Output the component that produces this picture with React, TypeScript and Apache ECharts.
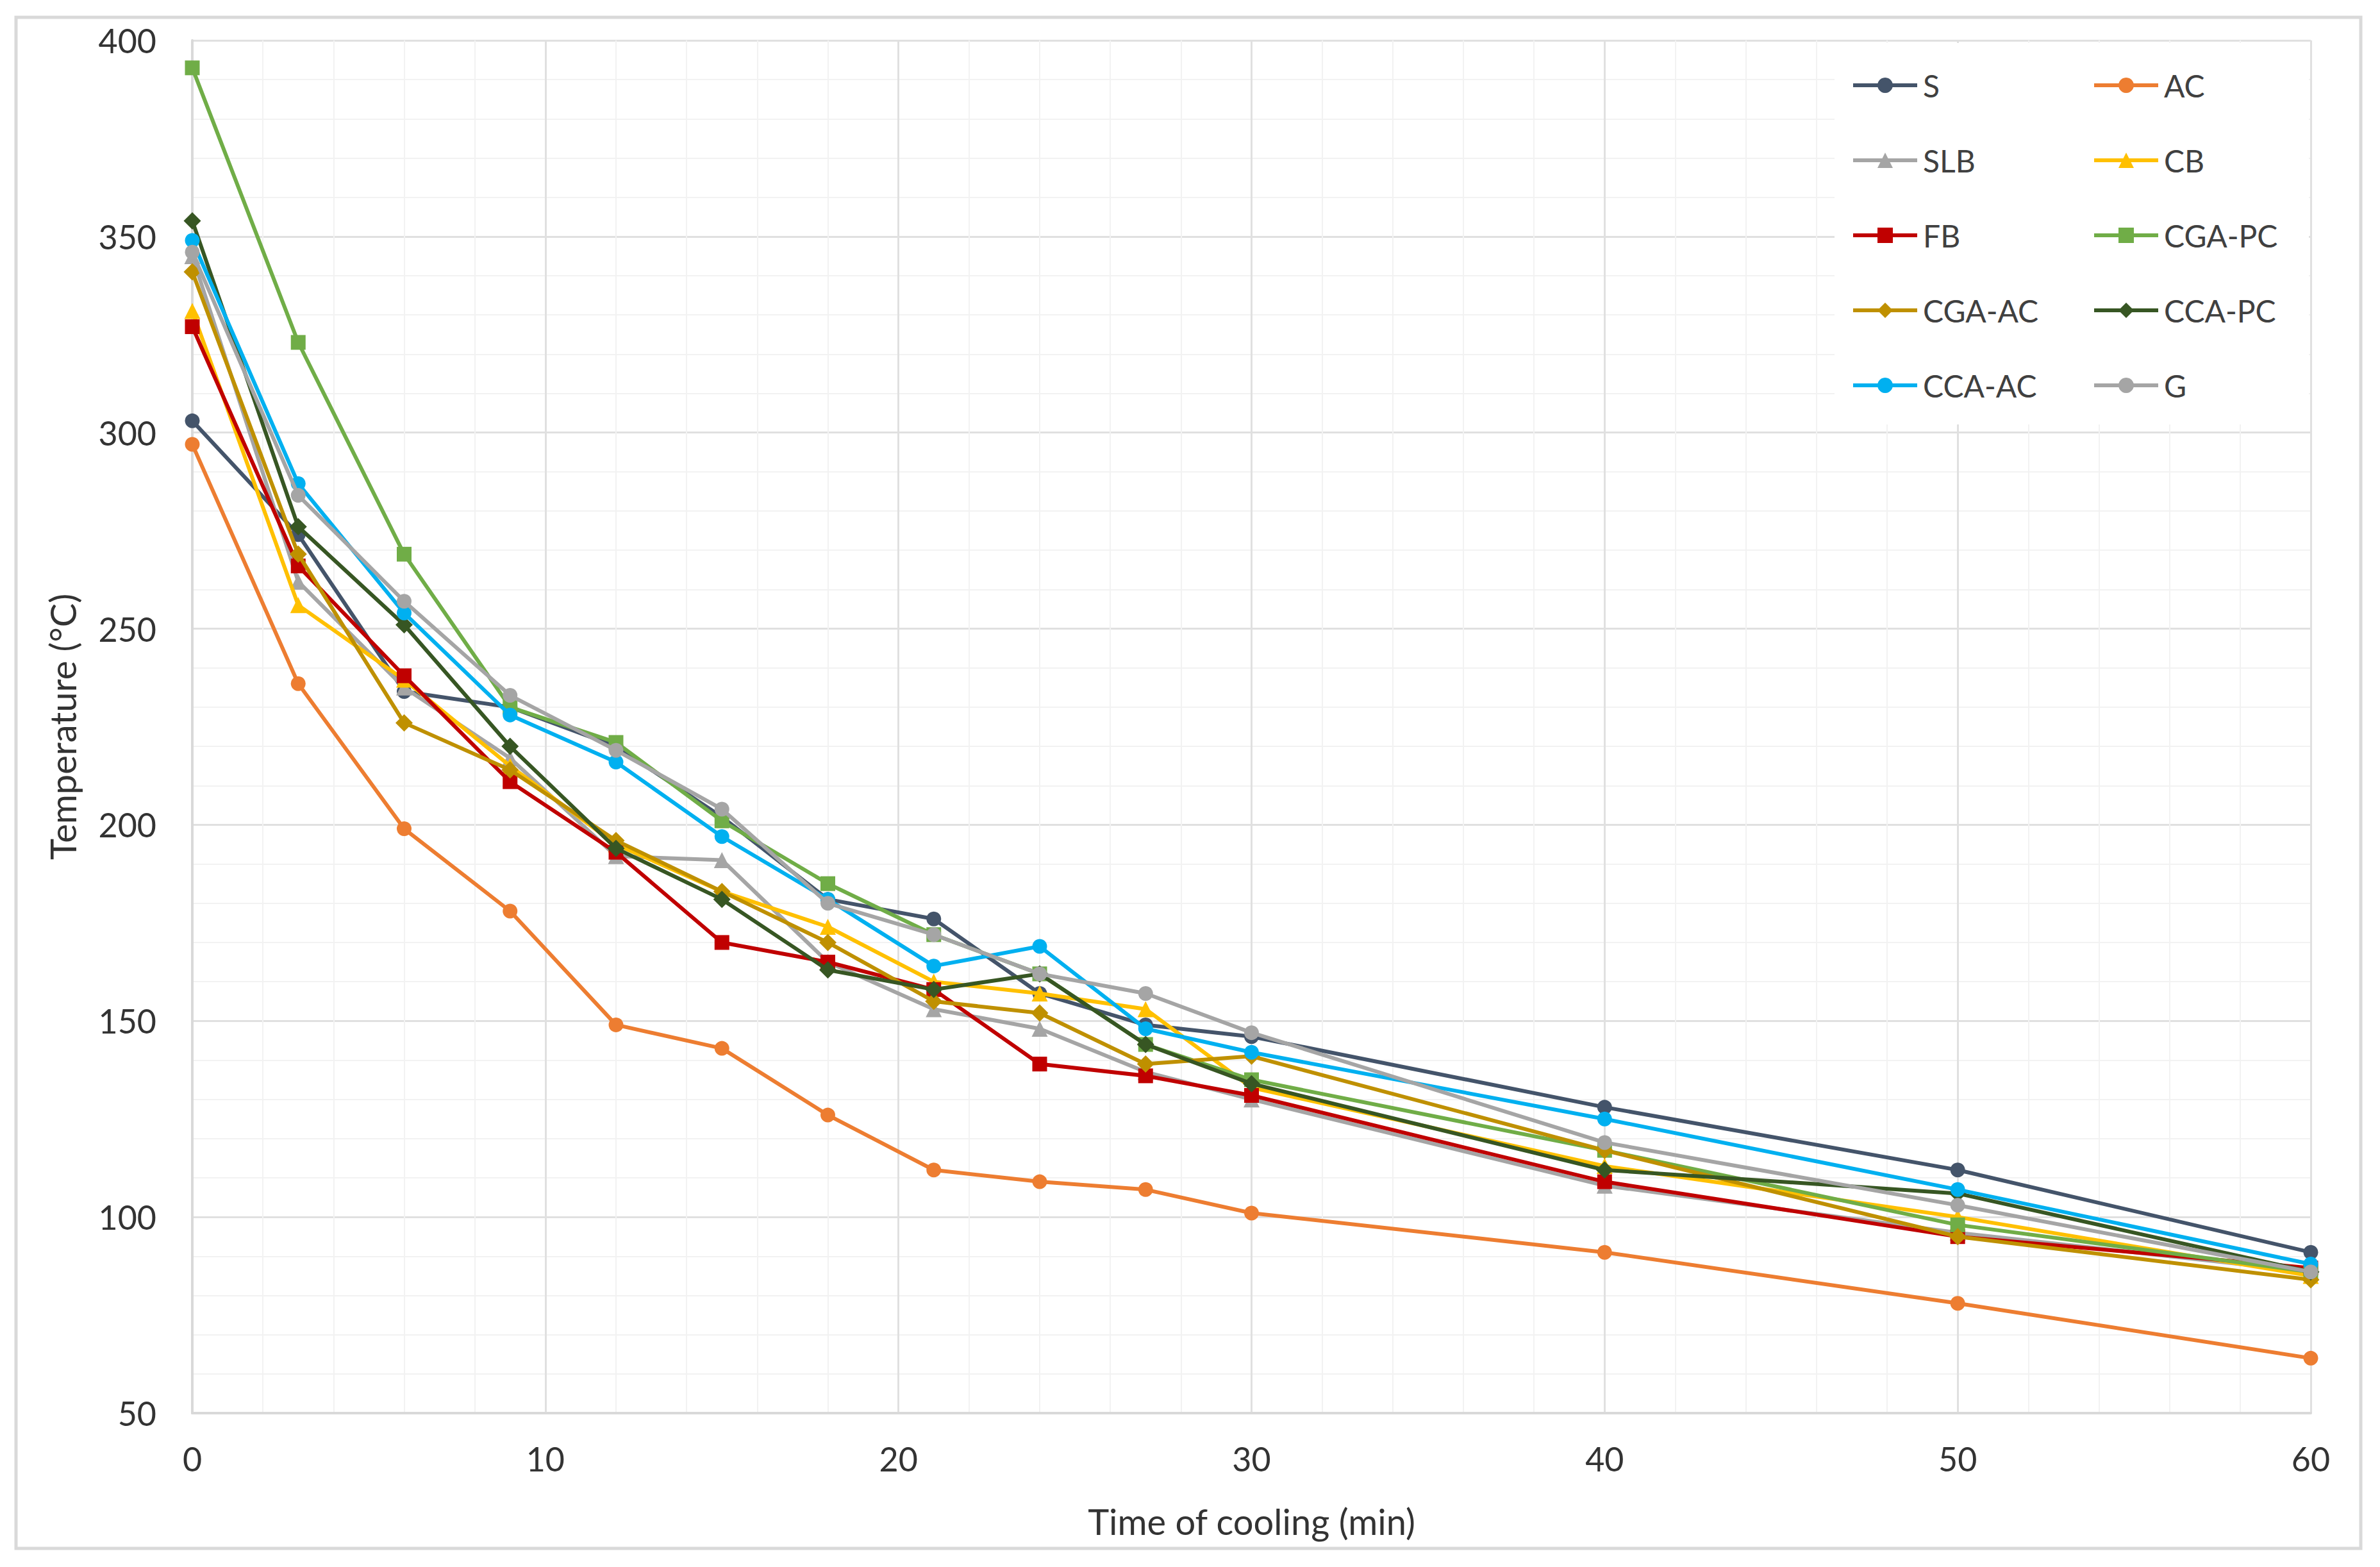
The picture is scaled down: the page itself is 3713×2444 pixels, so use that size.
import React, { useEffect, useRef } from "react";
import * as echarts from "echarts";

const times = [0, 3, 6, 9, 12, 15, 18, 21, 24, 27, 30, 40, 50, 60];

const sS = [303, 274, 234, 230, 220, 202, 181, 176, 157, 149, 146, 128, 112, 91];
const sAC = [297, 236, 199, 178, 149, 143, 126, 112, 109, 107, 101, 91, 78, 64];
const sSLB = [345, 262, 235, 217, 192, 191, 165, 153, 148, 137, 130, 108, 96, 86];
const sCB = [331, 256, 237, 215, 195, 183, 174, 160, 157, 153, 133, 113, 100, 85];
const sFB = [327, 266, 238, 211, 193, 170, 165, 158, 139, 136, 131, 109, 95, 87];
const sCGAPC = [393, 323, 269, 230, 221, 201, 185, 172, 162, 144, 135, 117, 98, 86];
const sCGAAC = [341, 269, 226, 214, 196, 183, 170, 155, 152, 139, 141, 117, 95, 84];
const sCCAPC = [354, 276, 251, 220, 194, 181, 163, 158, 162, 144, 134, 112, 106, 86];
const sCCAAC = [349, 287, 254, 228, 216, 197, 181, 164, 169, 148, 142, 125, 107, 88];
const sG = [346, 284, 257, 233, 219, 204, 180, 172, 162, 157, 147, 119, 103, 86];

const seriesNames = ["S", "AC", "SLB", "CB", "FB", "CGA-PC", "CGA-AC", "CCA-PC", "CCA-AC", "G"];
const seriesValues = [sS, sAC, sSLB, sCB, sFB, sCGAPC, sCGAAC, sCCAPC, sCCAAC, sG];
const seriesColors = ["#44546A", "#ED7D31", "#A5A5A5", "#FFC000", "#C00000", "#70AD47", "#BF9000", "#375623", "#00B0F0", "#A5A5A5"];
const seriesSymbols = ["circle", "circle", "triangle", "triangle", "rect", "rect", "diamond", "diamond", "circle", "circle"];

const legendCol1 = ["S", "SLB", "FB", "CGA-AC", "CCA-AC"];
const legendCol2 = ["AC", "CB", "CGA-PC", "CCA-PC", "G"];

const xTitle = "Time of cooling (min)";
const yTitle = "Temperature (°C)";

const FONT = "Lato, 'Open Sans', sans-serif";

export default function App() {
  const ref = useRef<HTMLDivElement>(null);
  useEffect(() => {
    document.body.style.margin = "0";
    const chart = echarts.init(ref.current!, null, { renderer: "svg" });
    const series = seriesNames.map((name, i) => ({
      name,
      type: "line",
      data: times.map((t, j) => [t, seriesValues[i][j]]),
      symbol: seriesSymbols[i],
      symbolSize: seriesSymbols[i] === "diamond" ? 27 : seriesSymbols[i] === "triangle" ? 25 : 23,
      showSymbol: true,
      lineStyle: { color: seriesColors[i], width: 6 },
      itemStyle: { color: seriesColors[i] },
      z: 2 + i * 0.01,
    }));
    const legendBase = {
      orient: "vertical",
      itemWidth: 100,
      itemHeight: 30,
      itemGap: 63,
      padding: 0,
      lineStyle: { width: 6 },
      textStyle: { fontFamily: FONT, fontSize: 48, color: "#404040", lineHeight: 54, padding: [0, 0, 0, 4] },
    };
    chart.setOption({
      animation: false,
      backgroundColor: "#FFFFFF",
      grid: { left: 300, right: 108, top: 63, bottom: 240, containLabel: false },
      xAxis: {
        type: "value",
        min: 0,
        max: 60,
        interval: 10,
        name: xTitle,
        nameLocation: "middle",
        nameGap: 140,
        nameTextStyle: { fontFamily: FONT, fontSize: 56, color: "#333333" },
        axisLine: { show: true, lineStyle: { color: "#D9D9D9", width: 4 } },
        axisTick: { show: false },
        axisLabel: { fontFamily: FONT, fontSize: 52, color: "#333333", margin: 45 },
        splitLine: { show: true, lineStyle: { color: "#E0E0E0", width: 3 } },
        minorTick: { show: false, splitNumber: 5 },
        minorSplitLine: { show: true, lineStyle: { color: "#F2F2F2", width: 2 } },
      },
      yAxis: {
        type: "value",
        min: 50,
        max: 400,
        interval: 50,
        name: yTitle,
        nameLocation: "middle",
        nameGap: 175,
        nameRotate: 90,
        nameTextStyle: { fontFamily: FONT, fontSize: 56, color: "#333333" },
        axisLine: { show: true, lineStyle: { color: "#D9D9D9", width: 4 } },
        axisTick: { show: false },
        axisLabel: { fontFamily: FONT, fontSize: 52, color: "#333333", margin: 56 },
        splitLine: { show: true, lineStyle: { color: "#E0E0E0", width: 3 } },
        minorTick: { show: false, splitNumber: 5 },
        minorSplitLine: { show: true, lineStyle: { color: "#F2F2F2", width: 2 } },
      },
      legend: [
        { ...legendBase, left: 2888, top: 106, data: legendCol1 },
        { ...legendBase, left: 3264, top: 106, data: legendCol2 },
      ],
      graphic: [
        {
          type: "rect",
          shape: { x: 25, y: 27, width: 3658, height: 2388 },
          style: { fill: "none", stroke: "#D9D9D9", lineWidth: 5 },
          z: 1,
          silent: true,
        },
        {
          type: "rect",
          shape: { x: 2862, y: 67, width: 740, height: 595 },
          style: { fill: "#FFFFFF" },
          z: 3,
          silent: true,
        },
      ],
      series,
    });
    return () => chart.dispose();
  }, []);
  return <div ref={ref} style={{ position: "absolute", left: 0, top: 0, width: 3713, height: 2444 }} />;
}
